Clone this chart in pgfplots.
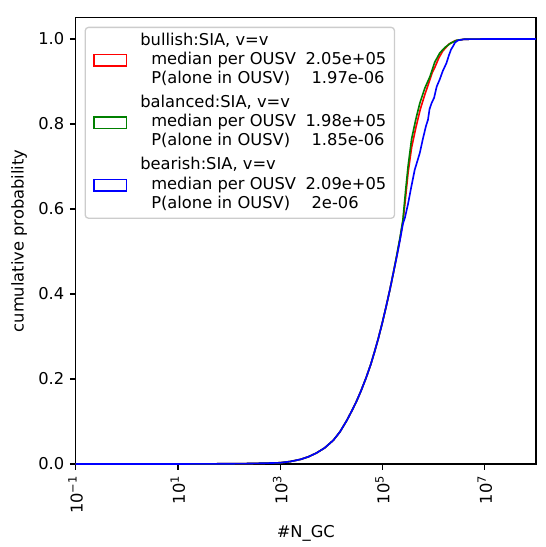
\documentclass[border=0pt]{standalone}
\usepackage{fontspec}
\setmainfont{DejaVu Sans}
\usepackage{pgfplots}
\pgfplotsset{compat=1.18}
\usepackage{pgfplotstable}
\definecolor{mplgreen}{HTML}{008000}
\definecolor{legendedge}{gray}{0.8}

\pgfplotstableread{
lx y
-1.5 0
0.5 0.0001
1.5 0.0003
2.3 0.001
2.7 0.002
3.0 0.003
3.2 0.006
3.4 0.011
3.55 0.017
3.71 0.026
3.87 0.038
4.04 0.056
4.17 0.076
4.30 0.102
4.40 0.125
4.49 0.147
4.58 0.172
4.68 0.203
4.77 0.234
4.84 0.262
4.92 0.296
5.00 0.334
5.08 0.375
5.15 0.413
5.21 0.448
5.28 0.490
5.34 0.528
5.40 0.570
5.45 0.625
5.50 0.685
5.57 0.745
5.65 0.790
5.74 0.835
5.83 0.870
5.91 0.898
5.97 0.920
6.03 0.935
6.10 0.955
6.18 0.972
6.30 0.988
6.42 0.996
6.60 0.9995
7.0 1
8.5 1
}\bullish

\pgfplotstableread{
lx y
-1.5 0
0.5 0.0001
1.5 0.0003
2.3 0.001
2.7 0.002
3.0 0.003
3.2 0.006
3.4 0.011
3.55 0.017
3.71 0.026
3.87 0.038
4.04 0.056
4.17 0.076
4.30 0.102
4.40 0.125
4.49 0.147
4.58 0.172
4.68 0.203
4.77 0.234
4.84 0.262
4.92 0.296
5.00 0.334
5.08 0.375
5.15 0.413
5.21 0.448
5.28 0.492
5.34 0.531
5.40 0.575
5.45 0.640
5.50 0.700
5.57 0.765
5.65 0.810
5.73 0.849
5.83 0.885
5.93 0.912
6.02 0.945
6.12 0.967
6.22 0.980
6.33 0.990
6.45 0.997
6.60 0.9995
7.0 1
8.5 1
}\balanced

\pgfplotstableread{
lx y
-1.5 0
0.5 0.0001
1.5 0.0003
2.3 0.001
2.7 0.002
3.0 0.003
3.2 0.006
3.4 0.011
3.55 0.017
3.71 0.026
3.87 0.038
4.04 0.056
4.17 0.076
4.30 0.102
4.40 0.125
4.49 0.147
4.58 0.172
4.68 0.203
4.77 0.234
4.84 0.262
4.92 0.296
5.00 0.334
5.08 0.375
5.15 0.413
5.21 0.448
5.28 0.488
5.34 0.525
5.40 0.565
5.44 0.580
5.50 0.612
5.56 0.650
5.63 0.692
5.68 0.712
5.73 0.732
5.79 0.765
5.85 0.795
5.89 0.810
5.92 0.835
5.96 0.849
6.01 0.862
6.06 0.888
6.12 0.905
6.18 0.925
6.25 0.943
6.30 0.962
6.34 0.975
6.38 0.983
6.42 0.992
6.48 0.997
6.60 0.9995
7.0 1
8.5 1
}\bearish

\newcommand{\legtext}[3]{\fontsize{10}{11.7}\selectfont\begin{tabular}{@{}l@{}}#1\\\hspace*{6.7pt}\makebox[94.7pt][l]{median per OUSV}#2\\\hspace*{6.7pt}\makebox[98.4pt][l]{P(alone in OUSV)}#3\end{tabular}}

\begin{document}
\begin{tikzpicture}
\useasboundingbox (-46.4pt,-50.9pt) rectangle (288.5pt,284.7pt);
\begin{axis}[
  at={(0,0)}, anchor=south west,
  scale only axis, width=282.4pt, height=273.8pt,
  xmode=log, log basis x=10,
  xmin=0.1, xmax=1e8, ymin=0, ymax=1.05,
  xtick={0.1,10,1000,100000,10000000},
  xticklabels={10\textsuperscript{\textminus1},10\textsuperscript{1},10\textsuperscript{3},10\textsuperscript{5},10\textsuperscript{7}},
  minor xtick={},
  ytick={0,0.2,0.4,0.6,0.8,1.0},
  yticklabels={0.0,0.2,0.4,0.6,0.8,1.0},
  tick align=outside, xtick pos=bottom, ytick pos=left,
  major tick length=3.5pt,
  tick style={black, line width=0.8pt},
  axis line style={black, line width=0.8pt},
  every tick label/.append style={font=\fontsize{10}{12}\selectfont},
  xticklabel style={rotate=90, anchor=east},
  label style={font=\fontsize{10}{12}\selectfont},
  xlabel={\#N\_GC},
  ylabel={cumulative probability},
  legend style={
    at={(axis description cs:0,1)}, anchor=north west,
    xshift=5.5pt, yshift=-5.5pt,
    draw=legendedge, fill=white, fill opacity=0.8, text opacity=1,
    rounded corners=2pt, line width=0.8pt,
    inner xsep=5pt, inner ysep=2.7pt,
    row sep=3.2pt, column sep=8pt,
    nodes={inner sep=0pt, text depth=, text height=},
    font=\fontsize{10}{11.7}\selectfont,
  },
  legend cell align=left,
  legend image code/.code={\draw[#1, sharp corners, line width=0.8pt] (0pt,-3.5pt) rectangle (20pt,3.5pt);},
]
\addplot[red, line width=1pt] table[x expr=10^\thisrow{lx}, y=y] {\bullish};
\addlegendentry{{\legtext{bullish:SIA, v=v}{2.05e+05}{1.97e-06}}}
\addplot[mplgreen, line width=1pt] table[x expr=10^\thisrow{lx}, y=y] {\balanced};
\addlegendentry{{\legtext{balanced:SIA, v=v}{1.98e+05}{1.85e-06}}}
\addplot[blue, line width=1pt] table[x expr=10^\thisrow{lx}, y=y] {\bearish};
\addlegendentry{{\legtext{bearish:SIA, v=v}{2.09e+05}{2e-06}}}
\end{axis}
\end{tikzpicture}
\end{document}
